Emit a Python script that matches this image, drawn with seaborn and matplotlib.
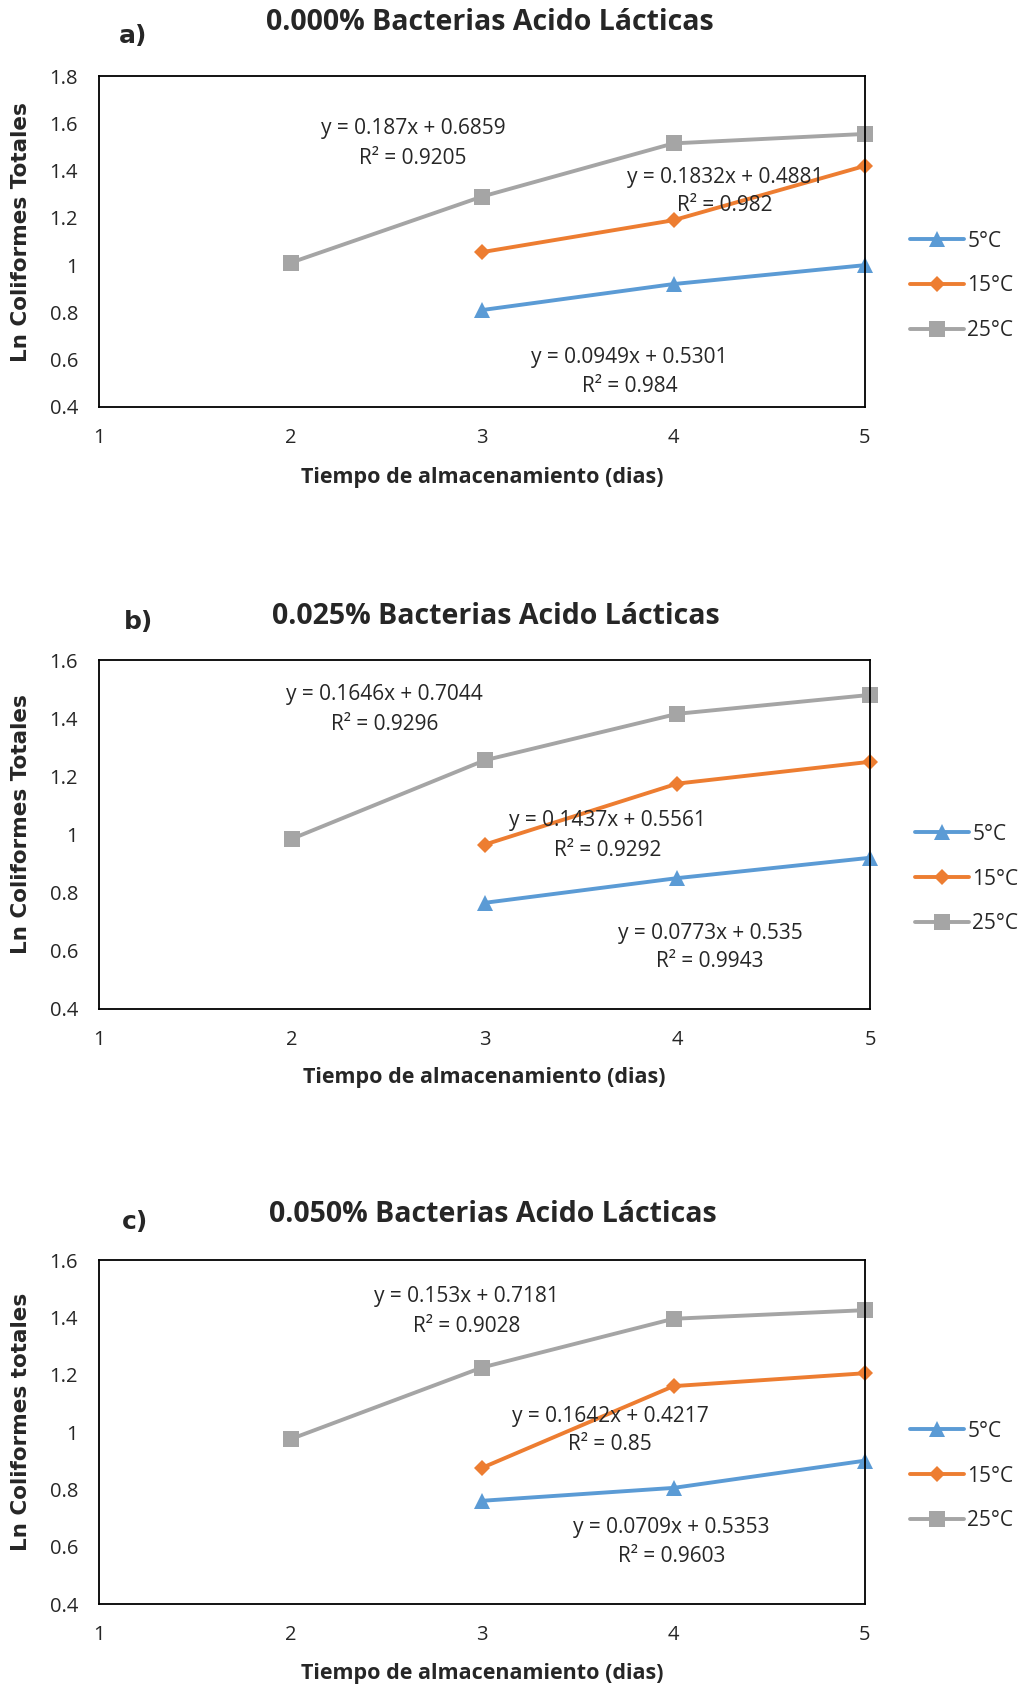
import matplotlib
matplotlib.use("Agg")
import matplotlib.pyplot as plt
import seaborn as sns

sns.set_style("white")
plt.rcParams['font.family'] = ['Open Sans', 'DejaVu Sans']

# data
dias = [1, 2, 3, 4, 5]
temps = ["5°C", "15°C", "25°C"]
colores = ["#5B9BD5", "#ED7D31", "#A5A5A5"]
marcas = ["^", "D", "s"]

x_5 = [3, 4, 5]
x_15 = [3, 4, 5]
x_25 = [2, 3, 4, 5]

# panel a) 0.000%
a_5 = [0.81, 0.92, 1.00]
a_15 = [1.055, 1.19, 1.42]
a_25 = [1.01, 1.29, 1.515, 1.555]
# panel b) 0.025%
b_5 = [0.765, 0.85, 0.92]
b_15 = [0.965, 1.175, 1.25]
b_25 = [0.985, 1.255, 1.415, 1.48]
# panel c) 0.050%
c_5 = [0.76, 0.805, 0.90]
c_15 = [0.875, 1.16, 1.205]
c_25 = [0.975, 1.225, 1.395, 1.425]

titulos = ["0.000% Bacterias Acido Lácticas", "0.025% Bacterias Acido Lácticas",
           "0.050% Bacterias Acido Lácticas"]
letras = ["a)", "b)", "c)"]
ylabels = ["Ln Coliformes Totales", "Ln Coliformes Totales", "Ln Coliformes totales"]
yticks_a = [0.4, 0.6, 0.8, 1.0, 1.2, 1.4, 1.6, 1.8]
yticks_bc = [0.4, 0.6, 0.8, 1.0, 1.2, 1.4, 1.6]
ytl_a = ["0.4", "0.6", "0.8", "1", "1.2", "1.4", "1.6", "1.8"]
ytl_bc = ["0.4", "0.6", "0.8", "1", "1.2", "1.4", "1.6"]

ecs_a = [("y = 0.187x + 0.6859", "R² = 0.9205", 2.64, 1.577, 1.449),
         ("y = 0.1832x + 0.4881", "R² = 0.982", 4.27, 1.371, 1.253),
         ("y = 0.0949x + 0.5301", "R² = 0.984", 3.77, 0.610, 0.487)]
ecs_b = [("y = 0.1646x + 0.7044", "R² = 0.9296", 2.48, 1.481, 1.378),
         ("y = 0.1437x + 0.5561", "R² = 0.9292", 3.64, 1.048, 0.944),
         ("y = 0.0773x + 0.535", "R² = 0.9943", 4.17, 0.659, 0.563)]
ecs_c = [("y = 0.153x + 0.7181", "R² = 0.9028", 2.92, 1.4725, 1.3675),
         ("y = 0.1642x + 0.4217", "R² = 0.85", 3.67, 1.0525, 0.955),
         ("y = 0.0709x + 0.5353", "R² = 0.9603", 3.99, 0.666, 0.565)]

W, H = 1023, 1688
fig = plt.figure(figsize=(W / 100, H / 100), dpi=100)

# pixel boxes: left, right, top, bottom
cajas = [(99, 865, 76, 407), (99, 870, 660, 1009), (99, 865, 1260, 1604)]
tit_pos = [(490, 22), (496, 616), (493, 1215)]
letra_pos = [(133, 36), (139, 622), (135, 1222)]
leg_pos = [(910, 286), (915, 879), (910, 1476)]
xlab_y = [477, 1078, 1674]

paneles = [
    ([a_5, a_15, a_25], yticks_a, ytl_a, (0.4, 1.8), ecs_a),
    ([b_5, b_15, b_25], yticks_bc, ytl_bc, (0.4, 1.6), ecs_b),
    ([c_5, c_15, c_25], yticks_bc, ytl_bc, (0.4, 1.6), ecs_c),
]

for i, (series, yt, ytl, ylim, ecs) in enumerate(paneles):
    l, r, t, b = cajas[i]
    ax = fig.add_axes([l / W, 1 - b / H, (r - l) / W, (b - t) / H])
    for xs, ys, lab, col, mk in zip([x_5, x_15, x_25], series, temps, colores, marcas):
        sns.lineplot(x=xs, y=ys, ax=ax, color=col, marker=mk, markersize=11 if mk != "D" else 8.5,
                     markeredgewidth=0, linewidth=2.8, label=lab, clip_on=False)
    ax.set_xlim(1, 5)
    ax.set_ylim(*ylim)
    ax.set_xticks(dias)
    ax.set_xticklabels([str(d) for d in dias])
    ax.set_yticks(yt)
    ax.set_yticklabels(ytl)
    ax.tick_params(axis="both", length=0, labelsize=14.5)
    ax.tick_params(axis="x", pad=15)
    ax.tick_params(axis="y", pad=15)
    for s in ax.spines.values():
        s.set_color("black")
        s.set_linewidth(1.3)
        s.set_visible(True)
    ax.grid(False)

    ax.set_xlabel("Tiempo de almacenamiento (dias)", fontsize=15.5, fontweight="bold")
    ax.xaxis.set_label_coords(0.5, (b - xlab_y[i]) / (b - t))
    ax.set_ylabel(ylabels[i], fontsize=15.5, fontweight="bold", family="DejaVu Sans")
    ax.yaxis.set_label_coords((21 - l) / (r - l), 0.53)
    ax.xaxis.label.set_va("center")
    ax.yaxis.label.set_va("center")

    for ec, r2, ex, ey1, ey2 in ecs:
        ax.text(ex, ey1, ec, ha="center", va="center", fontsize=15)
        ax.text(ex, ey2, r2, ha="center", va="center", fontsize=15)

    h, lb = ax.get_legend_handles_labels()
    lx, ly = leg_pos[i]
    ax.legend(h, lb, loc="center left", bbox_to_anchor=(lx / W, 1 - ly / H),
              bbox_transform=fig.transFigure, frameon=False, fontsize=15,
              handlelength=2.6, handletextpad=0.15, labelspacing=1.15,
              borderpad=0, borderaxespad=0)

    tx, ty = tit_pos[i]
    fig.text(tx / W, 1 - ty / H, titulos[i], ha="center", va="center",
             fontsize=20.5, fontweight="bold")
    lx2, ly2 = letra_pos[i]
    fig.text(lx2 / W, 1 - ly2 / H, letras[i], ha="center", va="center",
             fontsize=18, fontweight="bold", family="DejaVu Sans")

fig.savefig("out.png", dpi=100, facecolor="white")
